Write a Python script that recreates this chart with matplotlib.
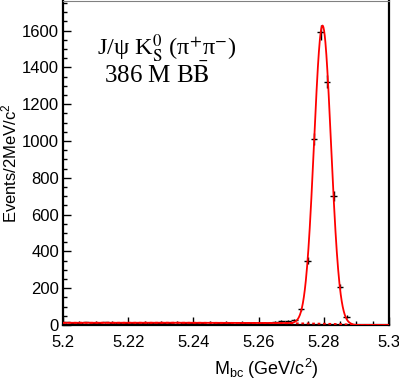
import numpy as np
import matplotlib.pyplot as plt
from matplotlib.ticker import MultipleLocator

plt.rcParams['font.family'] = ['Liberation Sans', 'DejaVu Sans']
plt.rcParams['mathtext.fontset'] = 'custom'
plt.rcParams['mathtext.rm'] = 'Liberation Sans'
plt.rcParams['mathtext.it'] = 'Liberation Sans'

# bin centres (2 MeV bins) and event counts
mbc = np.round(np.arange(5.201, 5.300, 0.002), 3)
events = [14, 12, 11, 15, 13, 12, 14, 10, 12, 13,
          11, 12, 9, 13, 11, 10, 12, 8, 11, 10,
          9, 12, 8, 10, 9, 11, 7, 9, 10, 8,
          12, 9, 14, 20, 22, 25, 85, 350, 1009, 1591,
          1322, 703, 208, 45, 2, 0, 1, 0, 0, 0]

# fit parameters (gaussian signal + ARGUS background)
sig_mean = 5.2796
sig_width = 0.0026
sig_peak = 1620
bg_at_low = 12
argus_end = 5.289
argus_c = -20


def argus(m):
    z = np.clip(1 - (m / argus_end) ** 2, 0, None)
    return m * np.sqrt(z) * np.exp(argus_c * z)


events = np.array(events, dtype=float)
xf = np.linspace(5.2, 5.3, 1000)
bg = bg_at_low * argus(xf) / argus(np.array([5.2]))[0]
total = bg + sig_peak * np.exp(-0.5 * ((xf - sig_mean) / sig_width) ** 2)

fig = plt.figure(figsize=(3.99, 3.81), dpi=100)
ax = fig.add_axes([0.158, 0.147, 0.817, 0.850])

ax.errorbar(mbc, events, yerr=np.sqrt(events), xerr=0.001, fmt='none',
            ecolor='black', elinewidth=1.0, capsize=0, zorder=2)
ax.plot(xf, total, color='red', lw=1.3, zorder=3)
ax.plot(xf, bg, color='red', lw=1.3, ls=(0, (1.5, 1.5)), zorder=3)

ax.set_xlim(5.2, 5.3)
ax.set_ylim(0, 1760)
ax.xaxis.set_minor_locator(MultipleLocator(0.005))
ax.yaxis.set_major_locator(MultipleLocator(200))
ax.yaxis.set_minor_locator(MultipleLocator(50))
ax.set_xticks([5.2, 5.22, 5.24, 5.26, 5.28, 5.3])
ax.set_xticklabels(['5.2', '5.22', '5.24', '5.26', '5.28', '5.3'])
ax.tick_params(which='both', direction='in', top=False, right=False,
               labelsize=12, width=1.0)
ax.tick_params(which='major', length=6)
ax.tick_params(which='minor', length=3)
ax.tick_params(axis='x', which='major', pad=7)
ax.tick_params(axis='y', which='major', pad=3)

for side in ['left', 'bottom', 'right']:
    ax.spines[side].set_linewidth(1.6)
ax.spines['top'].set_linewidth(0.8)
ax.spines['top'].set_color('gray')

ax.set_ylabel(r'Events/2MeV/c$^2$', fontsize=12)
ax.yaxis.set_label_coords(-0.135, 0.5)
ax.set_xlabel(r'M$_{\rm bc}$ (GeV/c$^2$)', fontsize=13)
ax.xaxis.set_label_coords(0.625, -0.1)

ax.text(0.104, 0.833, r'J/ψ K$^0_{\rm S}$ (π$^{+}$π$^{-}$)', transform=ax.transAxes,
        fontsize=17.5, family=['Liberation Serif', 'DejaVu Serif'],
        math_fontfamily='stix', va='baseline')
ax.text(0.126, 0.747, r'386 M B$\bar{\rm B}$', transform=ax.transAxes,
        fontsize=18, family=['Liberation Serif', 'DejaVu Serif'],
        math_fontfamily='stix', va='baseline')

fig.savefig('out.png', dpi=100)
